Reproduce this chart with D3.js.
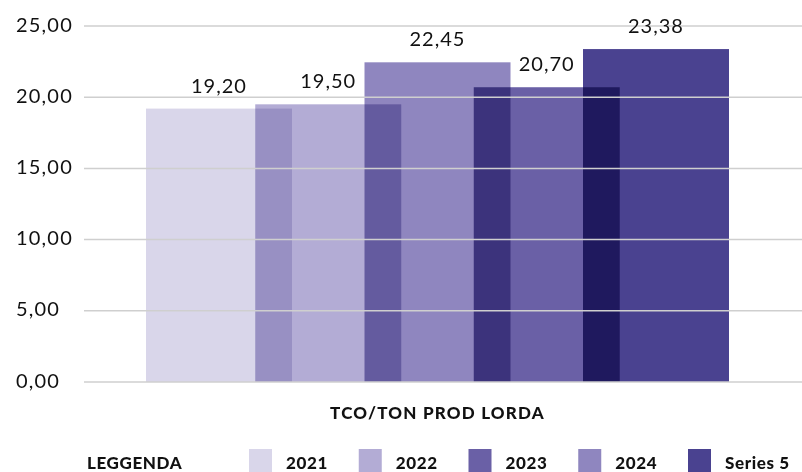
<!DOCTYPE html>
<meta charset="utf-8">
<head>
<style>
  body { margin: 0; background: #fff; }
  text { font-family: Lato, "Noto Sans", sans-serif; fill: #111; }
  .bold { font-weight: 900; }
</style>
<script src="https://d3js.org/d3.v7.min.js"></script>
</head>
<body>
<div id="chart"></div>
<script>
// data
var seriesNames = ["2021", "2022", "2023", "2024", "Series 5"];
var seriesValues = [19.20, 19.50, 20.70, 22.45, 23.38];
var seriesColors = ["#d9d6ea", "#b3acd5", "#6a60a6", "#8f86bf", "#4a4290"];
// order in which the bars stand inside the category
var barOrder = ["2021", "2022", "2024", "2023", "Series 5"];
var yTicks = [0, 5, 10, 15, 20, 25];
var category = "TCO/TON PROD LORDA";

var width = 802, height = 472;
var plot = { left: 84, right: 802, top: 26, bottom: 382 };
var barWidth = 146;

var it = d3.formatLocale({ decimal: ",", thousands: ".", grouping: [3], currency: ["€", ""] });
var fmt = it.format(".2f");

var svg = d3.select("#chart").append("svg")
    .attr("width", width)
    .attr("height", height);

var y = d3.scaleLinear().domain([0, 25]).range([plot.bottom, plot.top]);
var x = d3.scalePoint().domain(barOrder)
    .range([146 + barWidth / 2, 729 - barWidth / 2]);
var color = d3.scaleOrdinal().domain(seriesNames).range(seriesColors);

var data = seriesNames.map(function (s, i) { return { name: s, value: seriesValues[i] }; });

// bars (overlapping, multiplied)
svg.append("g").selectAll("rect")
    .data(data)
    .enter().append("rect")
    .attr("x", function (d) { return x(d.name) - barWidth / 2; })
    .attr("y", function (d) { return y(d.value); })
    .attr("width", barWidth)
    .attr("height", function (d) { return y(0) - y(d.value); })
    .attr("fill", function (d) { return color(d.name); })
    .style("mix-blend-mode", "multiply");

// gridlines on top
svg.append("g").selectAll("line")
    .data(yTicks)
    .enter().append("line")
    .attr("x1", plot.left).attr("x2", plot.right)
    .attr("y1", function (d) { return y(d); })
    .attr("y2", function (d) { return y(d); })
    .attr("stroke", "#cfcfcf")
    .attr("stroke-width", 1.5);

// y labels, left aligned
svg.append("g").selectAll("text")
    .data(yTicks)
    .enter().append("text")
    .attr("x", 16)
    .attr("y", function (d) { return y(d) - 1.5; })
    .attr("dy", "0.35em")
    .style("font-size", "20px")
    .style("letter-spacing", "1.2px")
    .text(function (d) { return fmt(d); });

// value labels
svg.append("g").selectAll("text")
    .data(data)
    .enter().append("text")
    .attr("x", function (d) { return x(d.name); })
    .attr("y", function (d) { return y(d.value) - 16; })
    .attr("text-anchor", "middle")
    .style("font-size", "20px")
    .style("letter-spacing", "1px")
    .text(function (d) { return fmt(d.value); });

// category title
svg.append("text")
    .attr("class", "bold")
    .attr("x", (x.range()[0] + x.range()[1]) / 2)
    .attr("y", 419)
    .attr("text-anchor", "middle")
    .style("font-size", "17px")
    .style("letter-spacing", "1.2px")
    .text(category);

// legend
var legend = svg.append("g");
legend.append("text")
    .attr("class", "bold")
    .attr("x", 87)
    .attr("y", 469)
    .style("font-size", "17px")
    .style("letter-spacing", "0.6px")
    .text("LEGGENDA");

var lx = d3.scalePoint().domain(seriesNames).range([249, 688]);
var item = legend.selectAll("g.item")
    .data(seriesNames)
    .enter().append("g")
    .attr("class", "item")
    .attr("transform", function (d) { return "translate(" + lx(d) + ",449)"; });
item.append("rect")
    .attr("width", 23)
    .attr("height", 23)
    .attr("fill", function (d) { return color(d); });
item.append("text")
    .attr("class", "bold")
    .attr("x", 37)
    .attr("y", 20)
    .style("font-size", "17px")
    .style("letter-spacing", "0.6px")
    .text(function (d) { return d; });
</script>
</body>
